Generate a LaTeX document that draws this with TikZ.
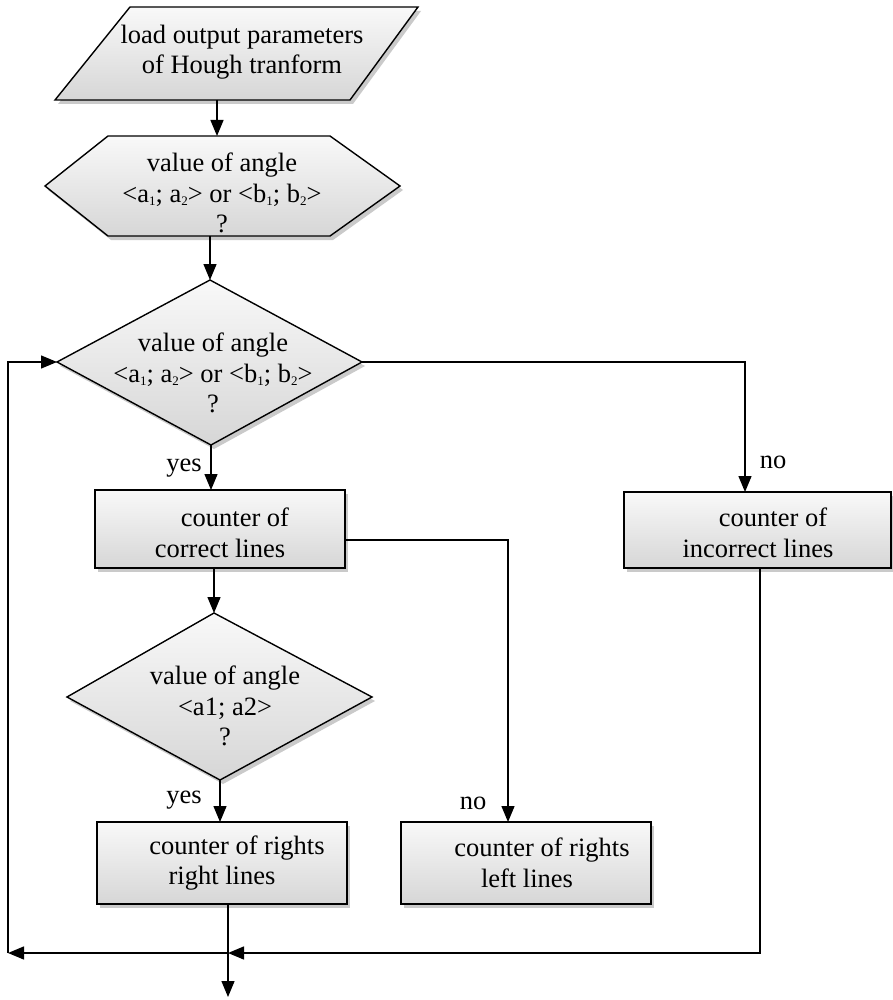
\documentclass[tikz,border=0pt]{standalone}
\usepackage{fontspec}
\setmainfont{Liberation Serif}
\usetikzlibrary{arrows.meta,shadows}

% small index set low beside the letter
\newcommand{\idx}[1]{\raisebox{-0.3ex}{\fontsize{13}{13}\selectfont #1}}

\tikzset{
  block/.style={draw=black, line width=1.4pt, top color=gray!5, bottom color=gray!32,
    drop shadow={shadow xshift=3pt, shadow yshift=-4pt, fill=gray!70, opacity=0.6}},
  txt/.style={align=center, font=\fontsize{26.5}{30.5}\selectfont, inner sep=0pt},
  lbl/.style={font=\fontsize{26.5}{30}\selectfont, inner sep=0pt},
  link/.style={line width=1.4pt},
  flow/.style={link, -{Triangle[length=16pt,width=13pt]}},
}

\begin{document}
\begin{tikzpicture}[x=1pt, y=-1pt]
\useasboundingbox (0,0) rectangle (893,1000);

% input: parameters of the Hough transform
\path[block] (130,7) -- (418,7) -- (350,100) -- (55,100) -- cycle;
\node[txt] (load) at (242,52) {load output parameters\\of Hough tranform};
\coordinate (load-s) at (217,100);

% first angle test (hexagon)
\path[block] (45,186) -- (108,136) -- (330,136) -- (400,186) -- (330,236) -- (108,236) -- cycle;
\node[txt] (hex) at (222,193) {value of angle\\<a\idx{1}; a\idx{2}> or <b\idx{1}; b\idx{2}>\\?};
\coordinate (hex-n) at (217,136);
\coordinate (hex-s) at (210,236);

% second angle test (diamond)
\path[block] (210,280) -- (362,362) -- (211,445) -- (57,362) -- cycle;
\node[txt] (dec1) at (213,373) {value of angle\\<a\idx{1}; a\idx{2}> or <b\idx{1}; b\idx{2}>\\?};
\coordinate (dec1-n) at (210,280);
\coordinate (dec1-e) at (362,362);
\coordinate (dec1-s) at (211,445);
\coordinate (dec1-w) at (57,362);

% counter of correct lines
\path[block] (95,490) rectangle (345,568);
\node[txt] (correct) at (220,533) {\hspace*{30pt}counter of\\correct lines};
\coordinate (correct-n) at (211,490);
\coordinate (correct-s) at (214,568);
\coordinate (correct-e) at (345,540);

% counter of incorrect lines
\path[block] (624,492) rectangle (891,568);
\node[txt] (incorrect) at (758,533) {\hspace*{30pt}counter of\\incorrect lines};
\coordinate (incorrect-n) at (745,492);
\coordinate (incorrect-s) at (760,568);

% third angle test (diamond)
\path[block] (214,613) -- (372,697) -- (220,780) -- (67,697) -- cycle;
\node[txt] (dec2) at (225,706) {value of angle\\<a1; a2>\\?};
\coordinate (dec2-n) at (214,613);
\coordinate (dec2-s) at (220,780);

% counters of right and left lines
\path[block] (97,822) rectangle (347,904);
\node[txt] (rright) at (222,863) {\hspace*{30pt}counter of rights\\right lines};
\coordinate (rright-n) at (220,822);
\coordinate (rright-s) at (228,904);

\path[block] (401,822) rectangle (651,904);
\node[txt] (rleft) at (527,863) {\hspace*{30pt}counter of rights\\left lines};
\coordinate (rleft-n) at (508,822);

% junction points of the return loop
\coordinate (join) at (228,953);
\coordinate (back) at (8,953);
\coordinate (exit) at (228,997);

% connectors
\draw[flow] (load-s) -- (hex-n);
\draw[flow] (hex-s) -- (dec1-n);
\draw[flow] (dec1-s) -- (correct-n);
\draw[flow] (dec1-e) -| (incorrect-n);
\draw[flow] (correct-s) -- (dec2-n);
\draw[flow] (correct-e) -| (rleft-n);
\draw[flow] (dec2-s) -- (rright-n);
\draw[flow] (rright-s) -- (exit);
\draw[flow] (incorrect-s) |- (join);
\draw[flow] (join) -- (back);
\draw[flow] (back) |- (dec1-w);

% branch labels
\node[lbl] (yes1) at (184,468) {yes};
\node[lbl] (no1) at (773,462) {no};
\node[lbl] (yes2) at (184,800) {yes};
\node[lbl] (no2) at (473,803) {no};
\end{tikzpicture}
\end{document}
